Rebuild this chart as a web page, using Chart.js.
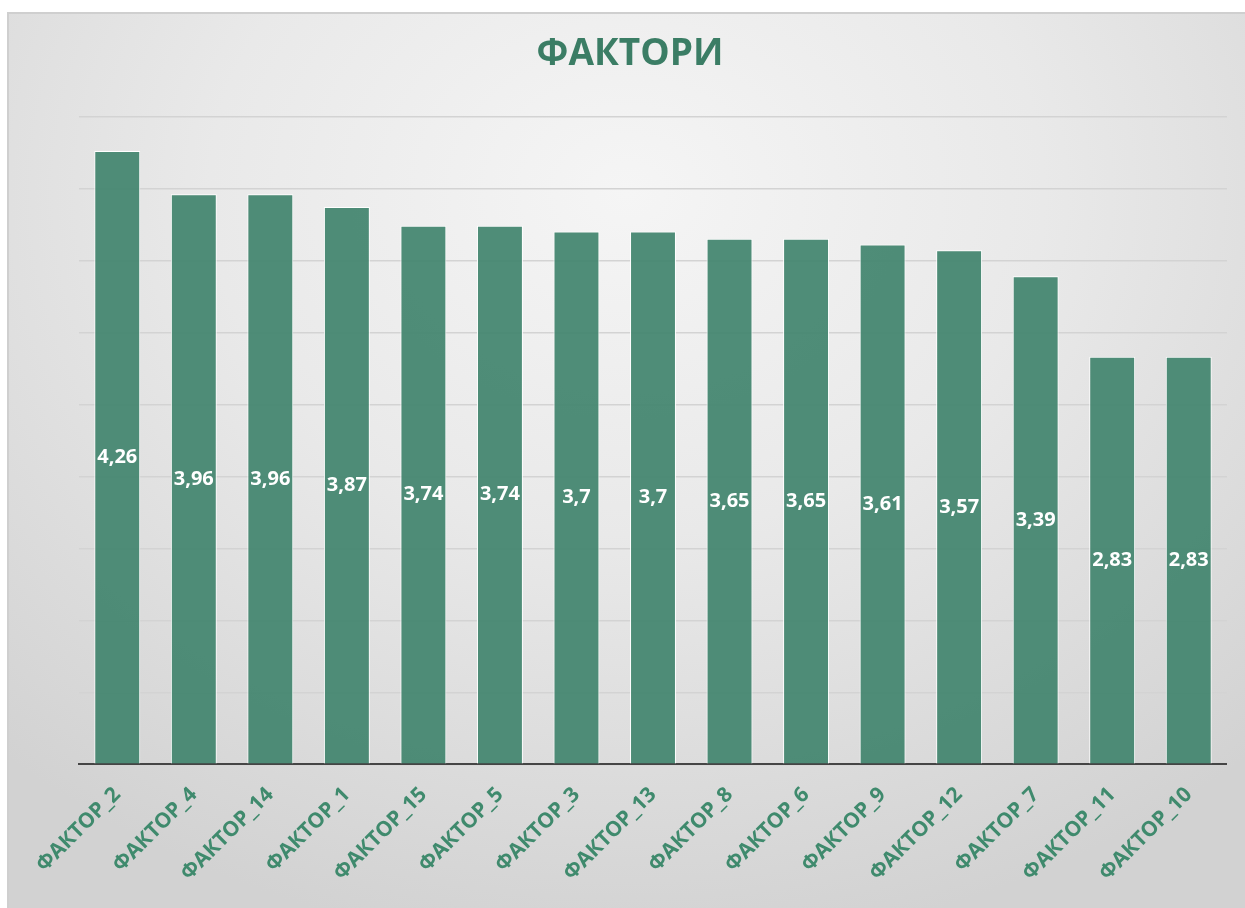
<!DOCTYPE html>
<html>
<head>
<meta charset="utf-8">
<script src="https://cdn.jsdelivr.net/npm/chart.js@4.4.1/dist/chart.umd.min.js"></script>
<style>
  html, body { margin: 0; padding: 0; background: #fff; }
  #frame {
    position: absolute; left: 7px; top: 12px; width: 1238px; height: 896px;
    box-sizing: border-box;
    border-top: 2px solid #cfcfcf; border-left: 2px solid #cfcfcf;
    background: radial-gradient(ellipse 75% 85% at 50% 20%, #f5f5f5 0%, #e9e9e9 45%, #d2d2d2 100%);
  }
  #chart { display: block; }
</style>
</head>
<body>
<div id="frame"><canvas id="chart" width="1218" height="894"></canvas></div>
<script>
'use strict';

// ── Data ─────────────────────────────────────────────────────────────────────
const factors = ['ФАКТОР_2', 'ФАКТОР_4', 'ФАКТОР_14', 'ФАКТОР_1', 'ФАКТОР_15',
  'ФАКТОР_5', 'ФАКТОР_3', 'ФАКТОР_13', 'ФАКТОР_8', 'ФАКТОР_6', 'ФАКТОР_9',
  'ФАКТОР_12', 'ФАКТОР_7', 'ФАКТОР_11', 'ФАКТОР_10'];
const scores = [4.26, 3.96, 3.96, 3.87, 3.74, 3.74, 3.7, 3.7, 3.65, 3.65, 3.61, 3.57, 3.39, 2.83, 2.83];

const GREEN = '#3b7d65';
const FONT = "'Open Sans', sans-serif";

// white value label in the middle of each bar, comma decimal
const centerLabels = {
  id: 'centerLabels',
  afterDatasetsDraw(chart) {
    const { ctx } = chart;
    const meta = chart.getDatasetMeta(0);
    ctx.save();
    ctx.fillStyle = '#ffffff';
    ctx.font = `bold 20px ${FONT}`;
    ctx.textAlign = 'center';
    ctx.textBaseline = 'middle';
    meta.data.forEach((bar, i) => {
      const mid = (bar.y + bar.base) / 2;
      ctx.fillText(String(scores[i]).replace('.', ','), bar.x, mid);
    });
    ctx.restore();
  }
};

new Chart(document.getElementById('chart'), {
  type: 'bar',
  data: {
    labels: factors,
    datasets: [{
      data: scores,
      backgroundColor: 'rgba(70,135,113,0.95)',
      borderColor: '#ffffff',
      borderWidth: 1,
      categoryPercentage: 1,
      barPercentage: 0.6
    }]
  },
  options: {
    responsive: false,
    animation: false,
    layout: { padding: { left: 24, right: 0, top: 18, bottom: 4 } },
    plugins: {
      legend: { display: false },
      tooltip: { enabled: false },
      title: {
        display: true,
        text: 'ФАКТОРИ',
        color: GREEN,
        font: { family: FONT, size: 37, weight: 'bold' },
        padding: { top: 0, bottom: 40 }
      }
    },
    scales: {
      x: {
        grid: { display: false, drawTicks: false },
        border: { color: '#454545', width: 2 },
        ticks: {
          color: '#3f8a6d',
          font: { family: FONT, size: 21, weight: 'bold' },
          minRotation: 45,
          maxRotation: 45,
          padding: 18
        }
      },
      y: {
        min: 0,
        max: 4.5,
        afterFit: scale => { scale.width = 46; },
        grid: { color: '#d3d3d3', lineWidth: 1.5, drawTicks: false },
        border: { display: false },
        ticks: { display: false, stepSize: 0.5 }
      }
    }
  },
  plugins: [centerLabels]
});
</script>
</body>
</html>
